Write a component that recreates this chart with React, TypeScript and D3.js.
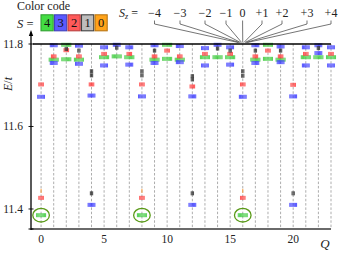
import React from 'react';
import * as d3 from 'd3';

const W = 344;
const H = 254;

// Spin values and their colors
const spinValues = [4, 3, 2, 1, 0];
const spinColors = ['#44dd44', '#5a5aff', '#ff5a5a', '#bdbdbd', '#ffa31a'];
const markColors = ['#3fcb3f', '#3f3fff', '#ff3f3f', '#333333', '#ff9a30'];

// Energy levels [Q, E/t] per total spin S
const s4Levels: [number, number][] = [
  [0, 11.385], [8, 11.385], [16, 11.385],
  [1, 11.762], [2, 11.798], [2, 11.763], [3, 11.762], [5, 11.768], [6, 11.770], [7, 11.768],
  [9, 11.762], [10, 11.798], [10, 11.764], [11, 11.762], [13, 11.768], [14, 11.768], [15, 11.768],
  [17, 11.762], [18, 11.798], [18, 11.764], [19, 11.762], [21, 11.768], [22, 11.768], [23, 11.768],
];
const s3Levels: [number, number][] = [
  [0, 11.672], [4, 11.675], [4, 11.41], [8, 11.673], [12, 11.673], [12, 11.41], [16, 11.672], [20, 11.673], [20, 11.41],
  [1, 11.797], [1, 11.754], [3, 11.796], [3, 11.752], [5, 11.792], [5, 11.748], [6, 11.798], [7, 11.792], [7, 11.75],
  [9, 11.797], [9, 11.754], [11, 11.795], [11, 11.756], [13, 11.79], [13, 11.748], [14, 11.798], [15, 11.792], [15, 11.75],
  [17, 11.797], [17, 11.754], [19, 11.794], [19, 11.756], [21, 11.792], [21, 11.748], [22, 11.797], [22, 11.778], [23, 11.792], [23, 11.748],
];
const s2Levels: [number, number][] = [
  [0, 11.702], [0, 11.427], [4, 11.702], [8, 11.702], [8, 11.427], [12, 11.697], [16, 11.702], [16, 11.427], [20, 11.701],
  [1, 11.77], [2, 11.785], [3, 11.77], [5, 11.776], [7, 11.776], [9, 11.77], [10, 11.784], [11, 11.77], [13, 11.776],
  [15, 11.776], [17, 11.77], [18, 11.784], [19, 11.77], [21, 11.776], [23, 11.776],
];
const s1Levels: [number, number][] = [
  [4, 11.734], [4, 11.724], [4, 11.438], [8, 11.734], [8, 11.724], [12, 11.722], [12, 11.714], [12, 11.438],
  [16, 11.734], [16, 11.723], [20, 11.438],
  [2, 11.788], [3, 11.784], [6, 11.791], [9, 11.784], [14, 11.789], [15, 11.784], [17, 11.784], [19, 11.784], [22, 11.79],
];
const s0Levels: [number, number][] = [[0, 11.444], [8, 11.444], [16, 11.444]];

const levelsBySpin = [s4Levels, s3Levels, s2Levels, s1Levels, s0Levels];

// Ground states circled
const groundQ = [0, 8, 16];
const groundE = 11.385;

// Axes
const qTicks = [0, 5, 10, 15, 20];
const eTicks = [11.4, 11.6, 11.8];
const qGrid = d3.range(0, 24);

// Sz annotation
const szValues = [-4, -3, -2, -1, 0, 1, 2, 3, 4];
const szLabels = ['\u22124', '\u22123', '\u22122', '\u22121', '0', '+1', '+2', '+3', '+4'];
const szLabelX = [154.5, 180, 205, 226, 242.6, 262, 282, 307, 331];
const szPointerQ = 16;

const x = d3.scaleLinear().domain([-0.8, 23]).range([31, 331]);
const y = d3.scaleLinear().domain([11.3515, 11.8]).range([229, 44]);

const SZ_PX = 1.12; // horizontal offset per Sz unit (px)
const font = "'Liberation Serif', 'Times New Roman', serif";

export default function App() {
  const marks: React.ReactNode[] = [];
  levelsBySpin.forEach((levels, si) => {
    const S = spinValues[si];
    levels.forEach(([q, e], li) => {
      for (let sz = -S; sz <= S; sz++) {
        const cx = x(q) + sz * SZ_PX;
        marks.push(
          <rect
            key={`m${si}-${li}-${sz}`}
            x={cx - 0.55}
            y={y(e) - 2}
            width={1.1}
            height={4}
            fill={markColors[si]}
            opacity={0.85}
          />
        );
      }
    });
  });

  return (
    <svg
      width={W}
      height={H}
      viewBox={`0 0 ${W} ${H}`}
      style={{ position: 'absolute', left: 0, top: 0, background: '#fff', fontFamily: font }}
    >
      {/* vertical dashed grid */}
      {qGrid.map((q) => (
        <line
          key={`g${q}`}
          x1={x(q)}
          x2={x(q)}
          y1={y(11.8)}
          y2={y.range()[0]}
          stroke="#8a8a8a"
          strokeWidth={0.7}
          strokeDasharray="2.5,1.8"
        />
      ))}

      {marks}

      {/* ground state circles */}
      {groundQ.map((q) => (
        <ellipse
          key={`c${q}`}
          cx={x(q)}
          cy={y(groundE)}
          rx={8.3}
          ry={6.8}
          fill="none"
          stroke="#5a9a18"
          strokeWidth={1.3}
        />
      ))}

      {/* top frame line */}
      <line x1={33} x2={x(23)} y1={y(11.8)} y2={y(11.8)} stroke="#000" strokeWidth={1.3} />

      {/* bottom axis */}
      <line x1={31} x2={x(23)} y1={229} y2={229} stroke="#6a6a6a" strokeWidth={1.8} />

      {/* left axis with arrow */}
      <line x1={31} x2={31} y1={230} y2={34} stroke="#000" strokeWidth={1.3} />
      <path d="M31,30 L33.2,36 L28.8,36 Z" fill="#000" />
      <line x1={28.5} x2={33.5} y1={229} y2={229} stroke="#000" strokeWidth={1} />

      {eTicks.map((t) => (
        <g key={`yt${t}`}>
          <line x1={28.5} x2={33.5} y1={y(t)} y2={y(t)} stroke="#000" strokeWidth={0.9} />
          <text x={23} y={y(t) + 3.7} fontSize={11.5} textAnchor="end" fill="#222">
            {t.toFixed(1)}
          </text>
        </g>
      ))}

      {qTicks.map((t) => (
        <text key={`xt${t}`} x={x(t)} y={242.5} fontSize={11.5} textAnchor="middle" fill="#222">
          {t}
        </text>
      ))}

      <text x={325} y={248} fontSize={13} fontStyle="italic" textAnchor="middle" fill="#222">
        Q
      </text>
      <text transform="translate(12,84) rotate(-90)" fontSize={12} textAnchor="middle" fill="#222">
        <tspan fontStyle="italic">E</tspan>/<tspan fontStyle="italic">t</tspan>
      </text>

      {/* color legend */}
      <text x={17} y={9.5} fontSize={12} fill="#222">
        Color code
      </text>
      <text x={17} y={27.5} fontSize={12.5} fill="#222">
        <tspan fontStyle="italic">S</tspan> =
      </text>
      {spinValues.map((s, i) => {
        const c = spinColors[i];
        const border = d3.color(c)!.darker(s === 1 ? 3 : 0.9).formatHex();
        const bx = 41 + i * 13.5;
        return (
          <g key={`lg${s}`}>
            <rect x={bx} y={14.8} width={12.2} height={16} fill={c} stroke={border} strokeWidth={1.1} />
            <text x={bx + 6.1} y={27} fontSize={12.5} textAnchor="middle" fill="#111">
              {s}
            </text>
          </g>
        );
      })}

      {/* Sz annotation */}
      <text x={119} y={17.3} fontSize={12} fill="#222">
        <tspan fontStyle="italic">S</tspan>
        <tspan fontSize={8} fontStyle="italic" dy={2}>z</tspan>
        <tspan dy={-2}> =</tspan>
      </text>
      {szValues.map((sz, i) => {
        const lx = szLabelX[i];
        const ex = x(szPointerQ) + sz * SZ_PX;
        return (
          <g key={`sz${sz}`}>
            <text x={lx} y={17.3} fontSize={12} textAnchor="middle" fill="#222">
              {szLabels[i]}
            </text>
            <path
              d={`M${lx},20.5 L${lx},24 L${ex},42.5`}
              fill="none"
              stroke="#3a3a3a"
              strokeWidth={0.7}
            />
          </g>
        );
      })}
    </svg>
  );
}
